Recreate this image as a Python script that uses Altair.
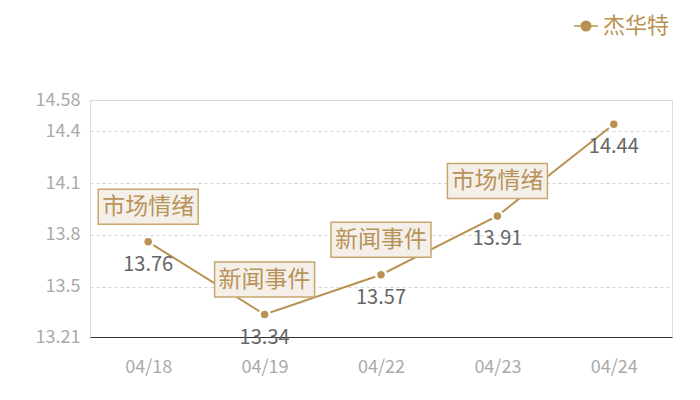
import altair as alt
import pandas as pd

dates = ["04/18", "04/19", "04/22", "04/23", "04/24"]
values = [13.76, 13.34, 13.57, 13.91, 14.44]
events = ["市场情绪", "新闻事件", "新闻事件", "市场情绪", ""]
y_ticks = [13.21, 13.5, 13.8, 14.1, 14.4, 14.58]
series_name = "杰华特"

df = pd.DataFrame({"date": dates, "value": values, "event": events, "series": series_name})

FONT = "Noto Sans CJK SC"
GOLD = "#b99150"

x = alt.X("date:N", sort=dates, title=None,
          axis=alt.Axis(labelAngle=0, labelColor="#aaaaaa", labelFontSize=18, labelFont=FONT,
                        labelPadding=21, ticks=False, domain=True, domainColor="#333333",
                        domainWidth=1, grid=False))
y = alt.Y("value:Q", title=None,
          scale=alt.Scale(domain=[13.21, 14.58], nice=False, zero=False),
          axis=alt.Axis(values=y_ticks, format=".2~f", labelColor="#aaaaaa", labelFontSize=18,
                        labelFont=FONT, labelPadding=10, ticks=False, domain=False, grid=True,
                        gridColor="#d4d4d4", gridDash=[3, 3], gridWidth=1))

base = alt.Chart(df)

legend_symbol = "M-1,0H1M-0.4,0A0.4,0.4 0 1,1 0.4,0A0.4,0.4 0 1,1 -0.4,0Z"

line = base.mark_line(strokeWidth=2).encode(
    x=x, y=y,
    color=alt.Color("series:N", scale=alt.Scale(domain=[series_name], range=[GOLD]),
                    legend=alt.Legend(title=None, orient="none", legendX=483, legendY=-87,
                                      symbolType=legend_symbol, symbolSize=576,
                                      symbolFillColor=GOLD, symbolStrokeColor=GOLD,
                                      symbolStrokeWidth=1.5, labelFontSize=22, labelFont=FONT,
                                      labelColor=GOLD, labelOffset=4, padding=0))
)

points = base.mark_point(filled=True, size=100, fill=GOLD, stroke="white", strokeWidth=2.5,
                         opacity=1).encode(x=x, y=y)

labels = base.mark_text(dy=23, fontSize=20, font=FONT, color="#666666").encode(
    x=x, y=y, text=alt.Text("value:Q", format=".2f"))

box_path = "M-1,-0.35H1V0.35H-1Z"
boxes = base.transform_filter(alt.datum.event != "").mark_point(
    shape=box_path, size=10000, filled=False, fill="#f4f0e9", stroke="#c9a66d",
    strokeWidth=1.5, opacity=1, fillOpacity=1, yOffset=-35).encode(x=x, y=y)

box_text = base.transform_filter(alt.datum.event != "").mark_text(
    yOffset=-35, fontSize=23, font=FONT, color="#b8935a").encode(x=x, y=y, text="event:N")

chart = alt.layer(line, points, labels, boxes, box_text).properties(
    width=582, height=237,
    autosize=alt.AutoSizeParams(type="none"),
    padding={"left": 82, "top": 92, "right": 20, "bottom": 55},
).configure_view(stroke=None).configure(font=FONT)

chart.save("out.html", embed_options={"renderer": "svg", "actions": False})
